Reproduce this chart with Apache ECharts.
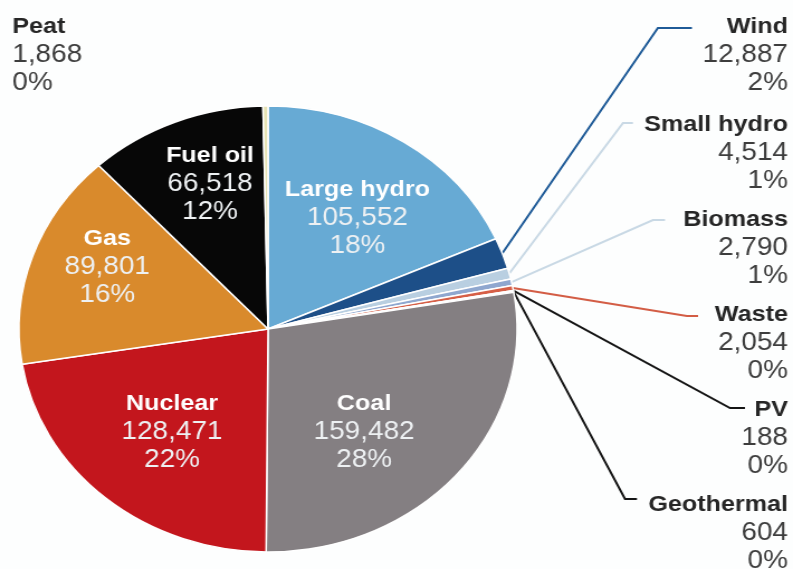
<!DOCTYPE html>
<html>
<head>
<meta charset="utf-8">
<script src="https://cdn.jsdelivr.net/npm/echarts@6/dist/echarts.min.js"></script>
<style>
  html, body { margin: 0; padding: 0; background: #fdfefe; }
  #wrap { width: 793px; height: 569px; overflow: hidden; }
  /* the pie is drawn slightly wider than tall */
  #chart { width: 710px; height: 569px; transform: scaleX(1.1169); transform-origin: 0 0; }
</style>
</head>
<body>
<div id="wrap"><div id="chart"></div></div>
<script>
// Installed capacity by source (MW), clockwise from 12 o'clock
const sources  = ['Large hydro', 'Wind', 'Small hydro', 'Biomass', 'Waste', 'PV', 'Geothermal',
                  'Coal', 'Nuclear', 'Gas', 'Fuel oil', 'Peat'];
const capacity = [105552, 12887, 4514, 2790, 2054, 188, 604,
                  159482, 128471, 89801, 66518, 1868];

// Slice fill colours
const sliceColors = {
  'Large hydro': '#67aad4', 'Wind': '#1d4f88', 'Small hydro': '#b9cfe1', 'Biomass': '#8fa7cf',
  'Waste': '#d65f47', 'PV': '#2a2a2a', 'Geothermal': '#6f6f6f', 'Coal': '#847f82',
  'Nuclear': '#c3161d', 'Gas': '#d98a2c', 'Fuel oil': '#070707', 'Peat': '#e6e3b4'
};
// Leader line colours for the callouts on the right
const lineColors = {
  'Wind': '#1f5b98', 'Small hydro': '#c9d9e5', 'Biomass': '#c9d9e5',
  'Waste': '#d35d45', 'PV': '#151515', 'Geothermal': '#151515'
};

const FONT = "'Liberation Sans', Arial, sans-serif";
const insideNames = ['Large hydro', 'Coal', 'Nuclear', 'Gas', 'Fuel oil'];

// Label placement (chart coordinates) and leader-line elbow/end points
const labelPlace = {
  'Peat':        { x: 11,    y: 55,  align: 'left' },
  'Wind':        { x: 705.5, y: 55,  align: 'right', elbow: [589, 28],   end: [619.5, 28] },
  'Small hydro': { x: 705.5, y: 153, align: 'right', elbow: [557.8, 123], end: [566.7, 123] },
  'Biomass':     { x: 705.5, y: 248, align: 'right', elbow: [584.6, 220], end: [595.4, 220] },
  'Waste':       { x: 705.5, y: 343, align: 'right', elbow: [615, 316],  end: [625, 316] },
  'PV':          { x: 705.5, y: 438, align: 'right', elbow: [653.6, 408], end: [667, 408] },
  'Geothermal':  { x: 705.5, y: 533, align: 'right', elbow: [559.6, 499], end: [570.3, 499] },
  'Fuel oil':    { x: 188,   y: 184, align: 'center' },
  'Large hydro': { x: 320,   y: 218, align: 'center' },
  'Gas':         { x: 96,    y: 267, align: 'center' },
  'Nuclear':     { x: 154,   y: 432, align: 'center' },
  'Coal':        { x: 326,   y: 432, align: 'center' }
};

function richFor(inside, align) {
  return {
    n: { fontFamily: FONT, fontWeight: 'bold', fontSize: 22.5, lineHeight: 28,
         color: inside ? '#ffffff' : '#262626', align: align },
    v: { fontFamily: FONT, fontSize: 25, lineHeight: 28,
         color: inside ? '#eef1f3' : '#3d3d3d', align: align }
  };
}

const pieData = sources.map((name, i) => {
  const inside = insideNames.includes(name);
  const place = labelPlace[name];
  return {
    name: name,
    value: capacity[i],
    itemStyle: { color: sliceColors[name] },
    label: {
      position: inside ? 'inside' : 'outside',
      align: place.align,
      rich: richFor(inside, place.align)
    },
    labelLine: {
      show: !!lineColors[name],
      lineStyle: { color: lineColors[name] || '#000', width: 2 }
    }
  };
});

const chart = echarts.init(document.getElementById('chart'), null, { renderer: 'canvas' });
chart.setOption({
  animation: false,
  backgroundColor: '#fdfefe',
  series: [{
    type: 'pie',
    center: [240, 329],
    radius: 223,
    startAngle: 90,
    clockwise: true,
    avoidLabelOverlap: false,
    percentPrecision: 0,
    minShowLabelAngle: 0,
    itemStyle: { borderColor: '#ffffff', borderWidth: 1.5 },
    emphasis: { disabled: true },
    label: {
      show: true,
      formatter: p => '{n|' + p.name + '}\n{v|' + p.value.toLocaleString('en-US') + '}\n{v|' + p.percent + '%}'
    },
    labelLine: { show: true, length: 20, length2: 10 },
    labelLayout: function (params) {
      const name = sources[params.dataIndex];
      const place = labelPlace[name];
      const out = { x: place.x, y: place.y, align: place.align, verticalAlign: 'middle' };
      if (place.elbow && params.labelLinePoints) {
        out.labelLinePoints = [params.labelLinePoints[0], place.elbow, place.end];
      }
      return out;
    },
    data: pieData
  }]
});
</script>
</body>
</html>
